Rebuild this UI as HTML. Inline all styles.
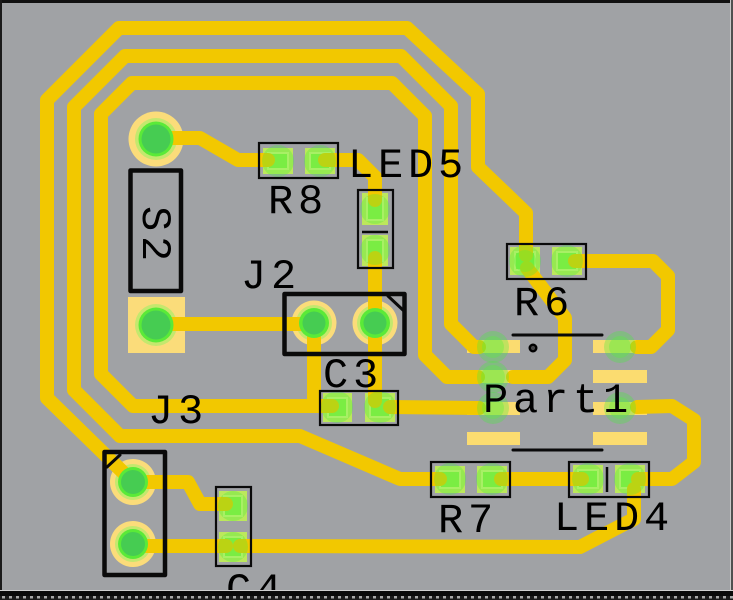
<!DOCTYPE html>
<html><head><meta charset="utf-8">
<style>
html,body{margin:0;padding:0;background:#a0a2a5;overflow:hidden;}
svg{display:block;}
text{font-family:"Liberation Mono","DejaVu Sans Mono",monospace;font-size:42px;fill:#000;letter-spacing:4.8px;}
</style></head><body>
<svg width="733" height="600" viewBox="0 0 733 600" xmlns="http://www.w3.org/2000/svg">
<defs>
<pattern id="dots" x="0" y="596" width="7" height="4" patternUnits="userSpaceOnUse">
<rect width="7" height="4" fill="#1a1a1a"/><rect x="2" y="0" width="3" height="2.5" fill="#a8a8a8"/>
</pattern>
<g id="smd">
</g>
</defs>
<rect width="733" height="600" fill="#a0a2a5"/>

<!-- SMD pads -->
<g fill="#bce85c">
<rect x="263" y="148" width="30" height="26"/><rect x="305" y="148" width="30" height="26"/>
<rect x="362" y="193" width="26" height="32"/><rect x="362" y="235" width="26" height="31"/>
<rect x="323" y="393" width="29" height="29"/><rect x="365" y="393" width="30" height="29"/>
<rect x="219" y="491" width="28" height="30"/><rect x="219" y="532" width="28" height="30"/>
<rect x="510" y="247" width="30" height="28"/><rect x="552" y="247" width="30" height="28"/>
<rect x="435" y="466" width="30" height="27"/><rect x="477" y="466" width="30" height="27"/>
<rect x="573" y="465" width="30" height="28"/><rect x="615" y="465" width="30" height="28"/>
</g>
<g fill="#92ee48" stroke="#d6f27a" stroke-width="2">
<rect x="268" y="153" width="20" height="16"/><rect x="310" y="153" width="20" height="16"/>
<rect x="367" y="198" width="16" height="22"/><rect x="367" y="240" width="16" height="21"/>
<rect x="328" y="398" width="19" height="19"/><rect x="370" y="398" width="20" height="19"/>
<rect x="224" y="496" width="18" height="20"/><rect x="224" y="537" width="18" height="20"/>
<rect x="515" y="252" width="20" height="18"/><rect x="557" y="252" width="20" height="18"/>
<rect x="440" y="471" width="20" height="17"/><rect x="482" y="471" width="20" height="17"/>
<rect x="578" y="470" width="20" height="18"/><rect x="620" y="470" width="20" height="18"/>
</g>

<!-- Part1 SOIC pads -->
<g fill="#fbdc70">
<rect x="467" y="340" width="53" height="13"/><rect x="467" y="370" width="53" height="13"/>
<rect x="467" y="402" width="53" height="13"/><rect x="467" y="432" width="53" height="13"/>
<rect x="593" y="340" width="54" height="13"/><rect x="593" y="370" width="54" height="13"/>
<rect x="593" y="402" width="54" height="13"/><rect x="593" y="432" width="54" height="13"/>
</g>

<!-- THT outer rings -->
<g fill="#fbdc7a">
<circle cx="156" cy="139" r="27.5"/>
<rect x="128" y="297" width="57" height="56"/>
<circle cx="314" cy="323" r="22.5"/><circle cx="375" cy="323" r="22.5"/>
<circle cx="133" cy="482" r="23"/><circle cx="133" cy="544" r="23"/>
</g>
<g fill="#c4e86e">
<circle cx="156" cy="139" r="21"/><circle cx="156" cy="325" r="21"/>
<circle cx="314" cy="323" r="18"/><circle cx="375" cy="323" r="18"/>
<circle cx="133" cy="482" r="18"/><circle cx="133" cy="544" r="18"/>
</g>

<!-- Traces -->
<g fill="none" stroke="#f2c800" stroke-width="14" stroke-linejoin="round" stroke-linecap="round">
<path d="M133,482 L47,398 L47,100 L119,28 L407,28 L478,94 L478,167 L526,213 L526,255"/>
<path d="M479,347 L474,347 L451,324 L451,106 L401,56 L125,56 L74,107 L74,390 L120,436 L300,436 L400,479 L440,479"/>
<path d="M314,323 L314,406 L133,406 L101,374 L101,114 L132,83 L392,83 L425,116 L425,355 L447,377 L478,377"/>
<path d="M314,406 L332,406"/>
<path d="M513,377 L548,377 L565,360 L565,318 L527,268"/>
<path d="M156,324 L314,324"/>
<path d="M156,138 L200,138 L238,160 L268,160"/>
<path d="M325,160 L358,160 L375,177 L375,200"/>
<path d="M375,258 L375,401"/>
<path d="M390,407 L479,408"/>
<path d="M133,482 L188,482 L200,504 L226,504"/>
<path d="M133,546 L226,546"/>
<path d="M240,546 L580,547 L634,519 L634,489"/>
<path d="M501,479 L582,479"/>
<path d="M638,479 L672,479 L694,462 L694,420 L672,406 L637,407"/>
<path d="M575,261 L653,261 L668,276 L668,330 L651,347 L637,347"/>
</g>

<!-- THT green centers -->
<g fill="#5aea38">
<circle cx="156" cy="139" r="17.5"/><circle cx="156" cy="325" r="17.5"/>
<circle cx="314" cy="323" r="15"/><circle cx="375" cy="323" r="15"/>
<circle cx="133" cy="482" r="15"/><circle cx="133" cy="544" r="15"/>
</g>
<g fill="#46cc52">
<circle cx="156" cy="139" r="14.5"/><circle cx="156" cy="325" r="14.5"/>
<circle cx="314" cy="323" r="11.5"/><circle cx="375" cy="323" r="11.5"/>
<circle cx="133" cy="482" r="12"/><circle cx="133" cy="544" r="12"/>
</g>

<!-- SMD green overlays -->
<g fill="rgba(70,235,60,0.32)">
<circle cx="278" cy="161" r="16"/><circle cx="320" cy="161" r="16"/>
<circle cx="375" cy="209" r="15"/><circle cx="375" cy="250" r="15"/>
<circle cx="337" cy="407" r="16"/><circle cx="380" cy="407" r="16"/>
<circle cx="233" cy="506" r="15"/><circle cx="233" cy="547" r="15"/>
<circle cx="525" cy="261" r="16"/><circle cx="567" cy="261" r="16"/>
<circle cx="450" cy="479" r="16"/><circle cx="492" cy="479" r="16"/>
<circle cx="588" cy="479" r="16"/><circle cx="630" cy="479" r="16"/>
<circle cx="493" cy="347" r="16"/><circle cx="493" cy="377" r="16"/><circle cx="493" cy="408" r="16"/>
<circle cx="620" cy="347" r="16"/><circle cx="620" cy="408" r="16"/>
</g>
<g fill="rgba(90,240,60,0.35)">
<circle cx="493" cy="347" r="11"/><circle cx="493" cy="377" r="12"/><circle cx="493" cy="408" r="11"/>
<circle cx="620" cy="347" r="11"/><circle cx="620" cy="408" r="11"/>
<circle cx="525" cy="261" r="11"/>
</g>

<!-- Silkscreen -->
<g fill="none" stroke="#0a0a0a" stroke-width="2.2">
<rect x="259" y="143" width="79" height="35"/>
<rect x="358" y="190" width="35" height="78"/>
<rect x="320" y="391" width="78" height="34"/>
<rect x="216" y="487" width="35" height="79"/>
<rect x="507" y="244" width="79" height="35"/>
<rect x="431" y="462" width="79" height="35"/>
<rect x="569" y="462" width="80" height="35"/>
<line x1="362" y1="232" x2="388" y2="232" stroke-width="2.5"/>
<line x1="607" y1="467" x2="607" y2="492" stroke-width="2.5"/>
</g>
<g fill="none" stroke="#0a0a0a" stroke-width="4.5" stroke-linejoin="round">
<rect x="130.5" y="170.5" width="50.5" height="120.5"/>
<rect x="284.5" y="294" width="120" height="60"/>
<rect x="104.5" y="452" width="60.5" height="123"/>
</g>
<g stroke="#0a0a0a" stroke-width="3" stroke-linecap="round">
<line x1="388" y1="296" x2="404" y2="311"/>
<line x1="107" y1="467" x2="120" y2="455"/>
<line x1="513" y1="335" x2="602" y2="335"/>
<line x1="513" y1="450" x2="602" y2="450"/>
</g>
<circle cx="533" cy="348" r="3.3" fill="#444" stroke="#000" stroke-width="2.4"/>

<!-- Labels -->
<text x="268" y="213">R8</text>
<text x="348" y="177">LED5</text>
<text x="241" y="288">J2</text>
<text x="514" y="315">R6</text>
<text x="323" y="387">C3</text>
<text x="483" y="412">Part1</text>
<text x="148" y="423">J3</text>
<text x="438" y="532">R7</text>
<text x="554" y="530">LED4</text>
<text x="226" y="602">C4</text>
<text transform="translate(143,206) rotate(90)" x="0" y="0">S2</text>

<!-- Board frame -->
<rect x="0" y="0" width="733" height="3" fill="#111"/>
<rect x="0" y="0" width="2" height="600" fill="#1a1a1a"/>
<rect x="730" y="0" width="1" height="592" fill="#c8c8c8"/>
<rect x="731" y="0" width="2" height="600" fill="#505050"/>
<rect x="0" y="590" width="733" height="1" fill="#d0d0d0"/>
<rect x="0" y="591" width="733" height="5" fill="#0a0a0a"/>
<rect x="0" y="596" width="733" height="4" fill="url(#dots)"/>
</svg>
</body></html>
